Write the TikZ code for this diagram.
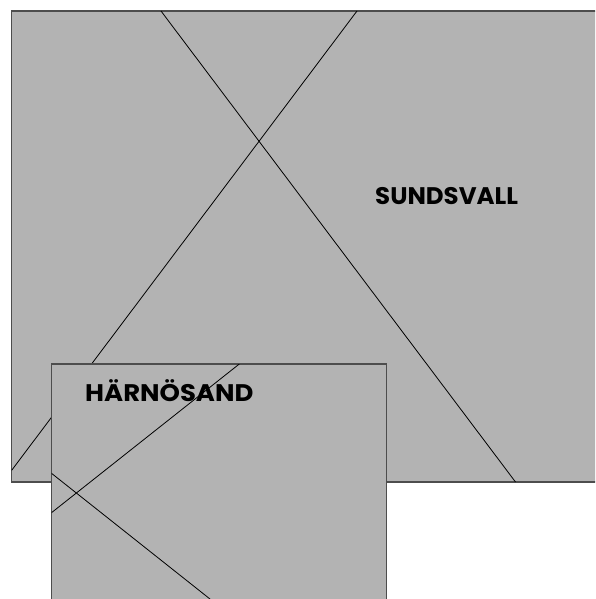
\documentclass[tikz,border=0pt]{standalone}
\usepackage{fontspec}
\setmainfont{Poppins}
\definecolor{mapgray}{HTML}{B3B3B3}
\definecolor{edgegray}{HTML}{4D4D4D}
\tikzset{
  region/.style={fill=mapgray, draw=edgegray, line width=1.1pt},
  crossline/.style={draw=black, line width=0.8pt},
  cityname/.style={anchor=base west, inner sep=0pt, font=\fontsize{24}{24}\selectfont\bfseries}
}
\begin{document}
\begin{tikzpicture}[x=1pt,y=-1pt]
\useasboundingbox (0,0) rectangle (595,599);
\clip (0,0) rectangle (595,599);
% large region
\draw[region] (11.5,11) rectangle (610,482);
\begin{scope}
  \clip (11.5,11) rectangle (610,482);
  \coordinate (l1a) at (161,11);
  \coordinate (l1b) at (515.5,482);
  \coordinate (l2a) at (357,11);
  \coordinate (l2b) at (11.5,470.5);
  \draw[crossline] (l1a) -- (l1b);
  \draw[crossline] (l2a) -- (l2b);
\end{scope}
% small region
\draw[region] (51.5,364) rectangle (386.5,620);
\begin{scope}
  \clip (51.5,364) rectangle (386.5,620);
  \coordinate (s1a) at (51.5,512.7);
  \coordinate (s1b) at (239.3,364);
  \coordinate (s2a) at (51.5,473.3);
  \coordinate (s2b) at (210,599);
  \draw[crossline] (s1a) -- (s1b);
  \draw[crossline] (s2a) -- (s2b);
\end{scope}
\node[cityname] (sundsvall) at (375,204) {\scalebox{1.02}[1]{SUNDSVALL}};
\node[cityname] (harnosand) at (85,401.7) {\scalebox{1.08}[1]{HÄRNÖSAND}};
\end{tikzpicture}
\end{document}
